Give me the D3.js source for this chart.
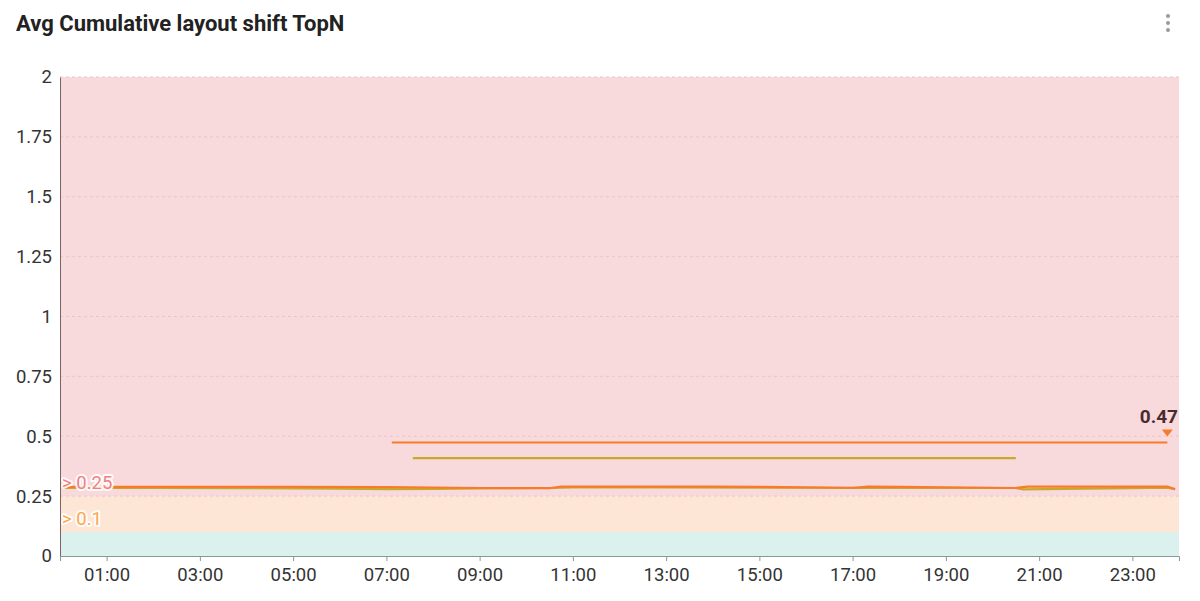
<!doctype html>
<html>
<head>
    <meta charset="utf-8">
    <title>Avg Cumulative layout shift TopN</title>
    <script src="https://cdn.jsdelivr.net/npm/d3@7"></script>
    <style>
        body {
            margin: 0;
            background: #fff;
            font-family: Roboto, "Noto Sans", Arial, sans-serif;
        }

        .title {
            font-size: 22px;
            font-weight: 700;
            fill: #222;
        }

        .tick text {
            font-family: Roboto, "Noto Sans", Arial, sans-serif;
            font-size: 18.5px;
            fill: #333;
        }

        .grid line {
            stroke: #efc3c6;
            stroke-dasharray: 3 3;
        }

        .band-label {
            font-size: 18.5px;
            paint-order: stroke;
            stroke: #fff;
            stroke-opacity: 0.9;
            stroke-width: 4px;
            stroke-linejoin: round;
        }

        .series {
            fill: none;
            stroke-width: 2.2px;
            stroke-linejoin: round;
        }
    </style>
</head>
<body>
    <svg id="chart" width="1200" height="601"></svg>
    <script>
        // Thresholds for the coloured background bands
        var bandEdges = [0, 0.1, 0.25, 2];
        var bandColors = ["#daf1ee", "#fde6d6", "#f8dadc"];
        var bandLabels = ["", "> 0.1", "> 0.25"];
        var bandLabelColors = ["", "#f9a84e", "#ee8184"];

        var yTicks = [0, 0.25, 0.5, 0.75, 1, 1.25, 1.5, 1.75, 2];
        var xTickHours = ["01:00", "03:00", "05:00", "07:00", "09:00", "11:00",
            "13:00", "15:00", "17:00", "19:00", "21:00", "23:00"];

        // Series (time of day, value)
        var orangeTimes = ["00:02", "01:00", "03:00", "05:00", "07:00", "08:00", "09:00", "10:00", "10:30",
            "10:45", "12:00", "14:00", "15:00", "16:00", "17:00", "17:20", "18:00", "19:00",
            "20:00", "20:30", "20:45", "22:00", "23:00", "23:45", "23:55"];
        var orangeValues = [0.289, 0.289, 0.289, 0.289, 0.288, 0.286, 0.284, 0.283, 0.283,
            0.290, 0.290, 0.290, 0.289, 0.287, 0.285, 0.290, 0.289, 0.287,
            0.285, 0.284, 0.290, 0.290, 0.290, 0.290, 0.279];

        var oliveTimes = ["00:02", "02:00", "04:00", "06:00", "07:00", "08:00", "09:00", "10:30", "11:00",
            "13:00", "15:00", "17:00", "19:00", "20:30", "20:40", "22:00", "23:00", "23:45", "23:55"];
        var oliveValues = [0.284, 0.284, 0.283, 0.281, 0.279, 0.280, 0.282, 0.284, 0.286,
            0.286, 0.285, 0.284, 0.284, 0.284, 0.278, 0.281, 0.283, 0.285, 0.279];

        var orangeTopTimes = ["07:07", "23:45"];
        var orangeTopValues = [0.474, 0.474];

        var oliveTopTimes = ["07:34", "20:30"];
        var oliveTopValues = [0.409, 0.409];

        var lastValueLabel = "0.47";

        var svg = d3.select("#chart");
        var margin = { top: 77, right: 21, bottom: 45, left: 60 };
        var width = 1200 - margin.left - margin.right;
        var height = 601 - margin.top - margin.bottom;

        var parseTime = function (s) {
            var p = s.split(":");
            return new Date(2024, 0, 1, +p[0], +p[1]);
        };

        var x = d3.scaleTime()
            .domain([new Date(2024, 0, 1, 0, 0), new Date(2024, 0, 2, 0, 0)])
            .range([0, width]);
        var y = d3.scaleLinear().domain([0, 2]).range([height, 0]);

        svg.append("text").attr("class", "title").attr("x", 16).attr("y", 31)
            .text("Avg Cumulative layout shift TopN");

        // Kebab menu
        svg.selectAll("circle.menu").data([16, 23, 30]).enter().append("circle")
            .attr("class", "menu").attr("cx", 1168).attr("cy", d => d).attr("r", 2)
            .attr("fill", "#9a9a9a");

        var g = svg.append("g").attr("transform", `translate(${margin.left},${margin.top})`);

        // Background bands
        g.selectAll("rect.band").data(bandColors).enter().append("rect")
            .attr("class", "band")
            .attr("x", 0).attr("width", width)
            .attr("y", (d, i) => y(bandEdges[i + 1]))
            .attr("height", (d, i) => y(bandEdges[i]) - y(bandEdges[i + 1]))
            .attr("fill", d => d);

        // Grid
        g.append("g").attr("class", "grid")
            .selectAll("line").data(yTicks.filter(d => d > 0)).enter().append("line")
            .attr("x1", 0).attr("x2", width)
            .attr("y1", d => y(d)).attr("y2", d => y(d));

        // Lines
        var line = d3.line().x(d => x(d[0])).y(d => y(d[1]));
        function drawSeries(times, values, color) {
            var pts = times.map((t, i) => [parseTime(t), values[i]]);
            g.append("path").datum(pts).attr("class", "series")
                .attr("stroke", color).attr("d", line);
        }
        drawSeries(oliveTimes, oliveValues, "#c8a92d");
        drawSeries(orangeTimes, orangeValues, "#f77b2b");
        drawSeries(oliveTopTimes, oliveTopValues, "#c8a92d");
        drawSeries(orangeTopTimes, orangeTopValues, "#f77b2b");

        // Last value marker
        var lastX = x(parseTime(orangeTopTimes[1]));
        var lastY = y(orangeTopValues[1]);
        g.append("path")
            .attr("d", "M-5.5,0L5.5,0L0,7Z")
            .attr("transform", `translate(${lastX},${lastY - 13})`)
            .attr("fill", "#f77b2b");
        g.append("text").attr("x", width - 1).attr("y", lastY - 19.5)
            .attr("text-anchor", "end")
            .style("font-size", "19px").style("font-weight", "700").style("fill", "#4a2c2e")
            .text(lastValueLabel);

        // Band labels
        g.selectAll("text.band-label").data(bandLabels).enter()
            .filter(d => d !== "").append("text")
            .attr("class", "band-label")
            .attr("x", 2)
            .attr("y", d => y(bandEdges[bandLabels.indexOf(d)]) - 7)
            .attr("fill", d => bandLabelColors[bandLabels.indexOf(d)])
            .text(d => d);

        // Axes
        var yAxis = g.append("g")
            .call(d3.axisLeft(y).tickValues(yTicks).tickSize(0).tickPadding(8)
                .tickFormat(d => d3.format("~g")(d)));
        yAxis.select(".domain").attr("stroke", "#7b6264");

        var xAxis = g.append("g").attr("transform", `translate(0,${height})`)
            .call(d3.axisBottom(x).tickValues(xTickHours.map(parseTime)).tickSize(5).tickPadding(7)
                .tickFormat(d3.timeFormat("%H:%M")));
        xAxis.select(".domain").attr("stroke", "#8a9898");
        xAxis.selectAll(".tick line").attr("stroke", "#8a9898");
    </script>
</body>
</html>
